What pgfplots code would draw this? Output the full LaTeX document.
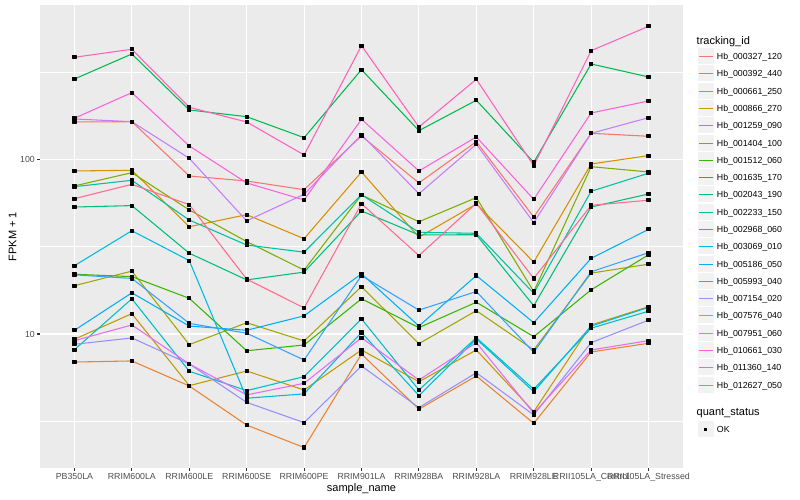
\documentclass[border=0pt]{standalone}
\usepackage{fontspec}
\setmainfont{Liberation Sans}
\usepackage{pgfplots}
\usepackage{pgfplotstable}
\pgfplotsset{compat=1.18}

\definecolor{panelbg}{HTML}{EBEBEB}
\definecolor{keybg}{HTML}{F2F2F2}
\definecolor{gray20}{HTML}{333333}
\definecolor{gray30}{HTML}{4D4D4D}
\definecolor{c1}{HTML}{F8766D}
\definecolor{c2}{HTML}{EA8331}
\definecolor{c3}{HTML}{D89000}
\definecolor{c4}{HTML}{C09B00}
\definecolor{c5}{HTML}{A3A500}
\definecolor{c6}{HTML}{7CAE00}
\definecolor{c7}{HTML}{39B600}
\definecolor{c8}{HTML}{00BB4E}
\definecolor{c9}{HTML}{00BF7D}
\definecolor{c10}{HTML}{00C1A3}
\definecolor{c11}{HTML}{00BFC4}
\definecolor{c12}{HTML}{00BAE0}
\definecolor{c13}{HTML}{00B0F6}
\definecolor{c14}{HTML}{35A2FF}
\definecolor{c15}{HTML}{9590FF}
\definecolor{c16}{HTML}{C77CFF}
\definecolor{c17}{HTML}{E76BF3}
\definecolor{c18}{HTML}{FA62DB}
\definecolor{c19}{HTML}{FF62BC}
\definecolor{c20}{HTML}{FF6C91}

% FPKM + 1 per sample (rows) and tracking id (columns s1..s20)
\pgfplotstableread{
x  s1    s2    s3    s4    s5    s6   s7    s8    s9   s10  s11   s12  s13  s14  s15   s16   s17   s18   s19   s20
0  163.5 6.91  85.7  9.33  18.9  70.4 21.97 288   53.3 69.7 8.13  24.6 10.5 21.8 8.73  170.1 9.16  171.7 383.5 59.5
1  164.1 7.01  86.5  13.07 22.9  83.8 21.3  400.6 54.3 75.8 15.9  39.0 17.2 20.8 9.49  164.1 11.26 240.6 426.2 71.9
2  80.2  5.04  41.1  5.06  8.69  51.3 16.0  191.5 29.0 44.9 6.12  26.3 11.1 11.5 6.74  101.3 6.74  119.2 198.4 55.0
3  75.1  3.01  48.2  6.14  11.6  33.8 8.02  175.3 20.4 32.3 4.74  4.29 10.5 10.1 4.06  44.4  4.48  73.2  163.5 20.6
4  67.0  2.24  35.1  4.78  9.12  23.2 8.65  132.9 22.6 29.4 5.70  4.54 12.7 7.10 3.11  63.0  5.22  58.5  105.8 14.1
5  135.9 7.68  84.6  8.10  18.66 62.5 15.9  325.7 50.6 62.7 12.2  10.2 22.1 21.6 6.56  138.3 9.52  169.4 446.9 55.7
6  73.2  3.71  35.8  5.33  8.80  43.9 10.87 145.8 36.9 38.2 4.78  4.44 11.1 13.7 3.79  63.5  5.45  85.7  153.0 28.1
7  126.1 5.75  55.5  8.10  13.6  60.3 15.2  217.6 37.0 37.7 9.52  9.36 21.6 17.5 6.00  121.9 8.92  134.2 287.0 56.0
8  46.7  3.08  25.8  3.59  8.10  17.5 9.65  96.1  14.5 17.1 4.83  4.68 11.6 7.86 3.44  43.4  3.52  59.0  91.9  20.8
9  140.8 7.89  94.0  11.26 22.3  90.7 17.9  351.2 53.3 65.6 10.8  11.1 27.1 22.7 8.92  140.8 8.10  184.1 418.4 54.5
10 135.4 8.85  104.9 14.33 25.1  84.6 28.4  295.9 63.3 83.2 13.5  14.2 39.7 29.2 12.0  173.0 9.16  215.6 577.0 58.3
}\fpkm

\begin{document}
\begin{tikzpicture}
\path (0,0) rectangle (800pt,500pt);
\begin{axis}[
  at={(40pt,32pt)}, anchor=south west,
  scale only axis, width=643pt, height=463pt,
  xmin=-0.6, xmax=10.6,
  ymode=log, ymin=1.71, ymax=764,
  set layers, mark layer=axis foreground,
  axis background/.style={fill=panelbg},
  axis line style={draw=none},
  xtick={0,...,10},
  xticklabels={PB350LA,RRIM600LA,RRIM600LE,RRIM600SE,RRIM600PE,RRIM901LA,RRIM928BA,RRIM928LA,RRIM928LE,RRII105LA\_Control,RRII105LA\_Stressed},
  ytick={10,100}, yticklabels={10,100},
  minor ytick={3.1623,31.623,316.23},
  grid=both,
  major grid style={white, line width=1.07pt},
  minor grid style={white, line width=0.53pt},
  tick pos=left, tick align=outside,
  major tick length=2.75pt, minor tick length=0pt,
  tick style={gray20, line width=1.07pt},
  tick label style={font=\fontsize{8.8}{10}\selectfont, text=gray30, inner sep=2.2pt},
  every axis plot/.append style={line width=1.07pt, line join=round, mark=square*, mark size=1.55pt, mark options={black, solid}},
]
\pgfplotsinvokeforeach{1,...,20}{\addplot[c#1] table[x=x, y=s#1]{\fpkm};}
\end{axis}

\begin{scope}[x=1pt, y=-1pt, shift={(0pt,500pt)}]
\node[rotate=90, font=\fontsize{11}{13}\selectfont] at (12.5,236.5) {FPKM + 1};
\node[anchor=base, font=\fontsize{11}{13}\selectfont] at (361.5,491.5) {sample\_name};
\node[anchor=base west, inner sep=0, font=\fontsize{11}{13}\selectfont] at (696.5,44.5) {tracking\_id};
\foreach \nm/\cl [count=\i from 0] in {Hb\_000327\_120/c1, Hb\_000392\_440/c2, Hb\_000661\_250/c3, Hb\_000866\_270/c4, Hb\_001259\_090/c5, Hb\_001404\_100/c6, Hb\_001512\_060/c7, Hb\_001635\_170/c8, Hb\_002043\_190/c9, Hb\_002233\_150/c10, Hb\_002968\_060/c11, Hb\_003069\_010/c12, Hb\_005186\_050/c13, Hb\_005993\_040/c14, Hb\_007154\_020/c15, Hb\_007576\_040/c16, Hb\_007951\_060/c17, Hb\_010661\_030/c18, Hb\_011360\_140/c19, Hb\_012627\_050/c20} {
  \pgfmathsetmacro\yy{floor(56.7+17.28*\i)+0.5}
  \fill[keybg] (697.5,\yy-8) rectangle (714,\yy+8);
  \fill[\cl] (699,\yy-0.75) rectangle (712.5,\yy+0.75);
  \node[anchor=west, inner sep=0, text height=6.3pt, text depth=0pt, font=\fontsize{8.8}{10}\selectfont] at (716.7,\yy) {\nm};
}
\node[anchor=base west, inner sep=0, font=\fontsize{11}{13}\selectfont] at (696.5,416) {quant\_status};
\fill[keybg] (697.5,421.5) rectangle (714,437.5);
\fill[black] (704.25,428) rectangle (707.25,431);
\node[anchor=west, inner sep=0, text height=6.3pt, text depth=0pt, font=\fontsize{8.8}{10}\selectfont] at (716.7,429.5) {OK};
\end{scope}
\end{tikzpicture}
\end{document}
